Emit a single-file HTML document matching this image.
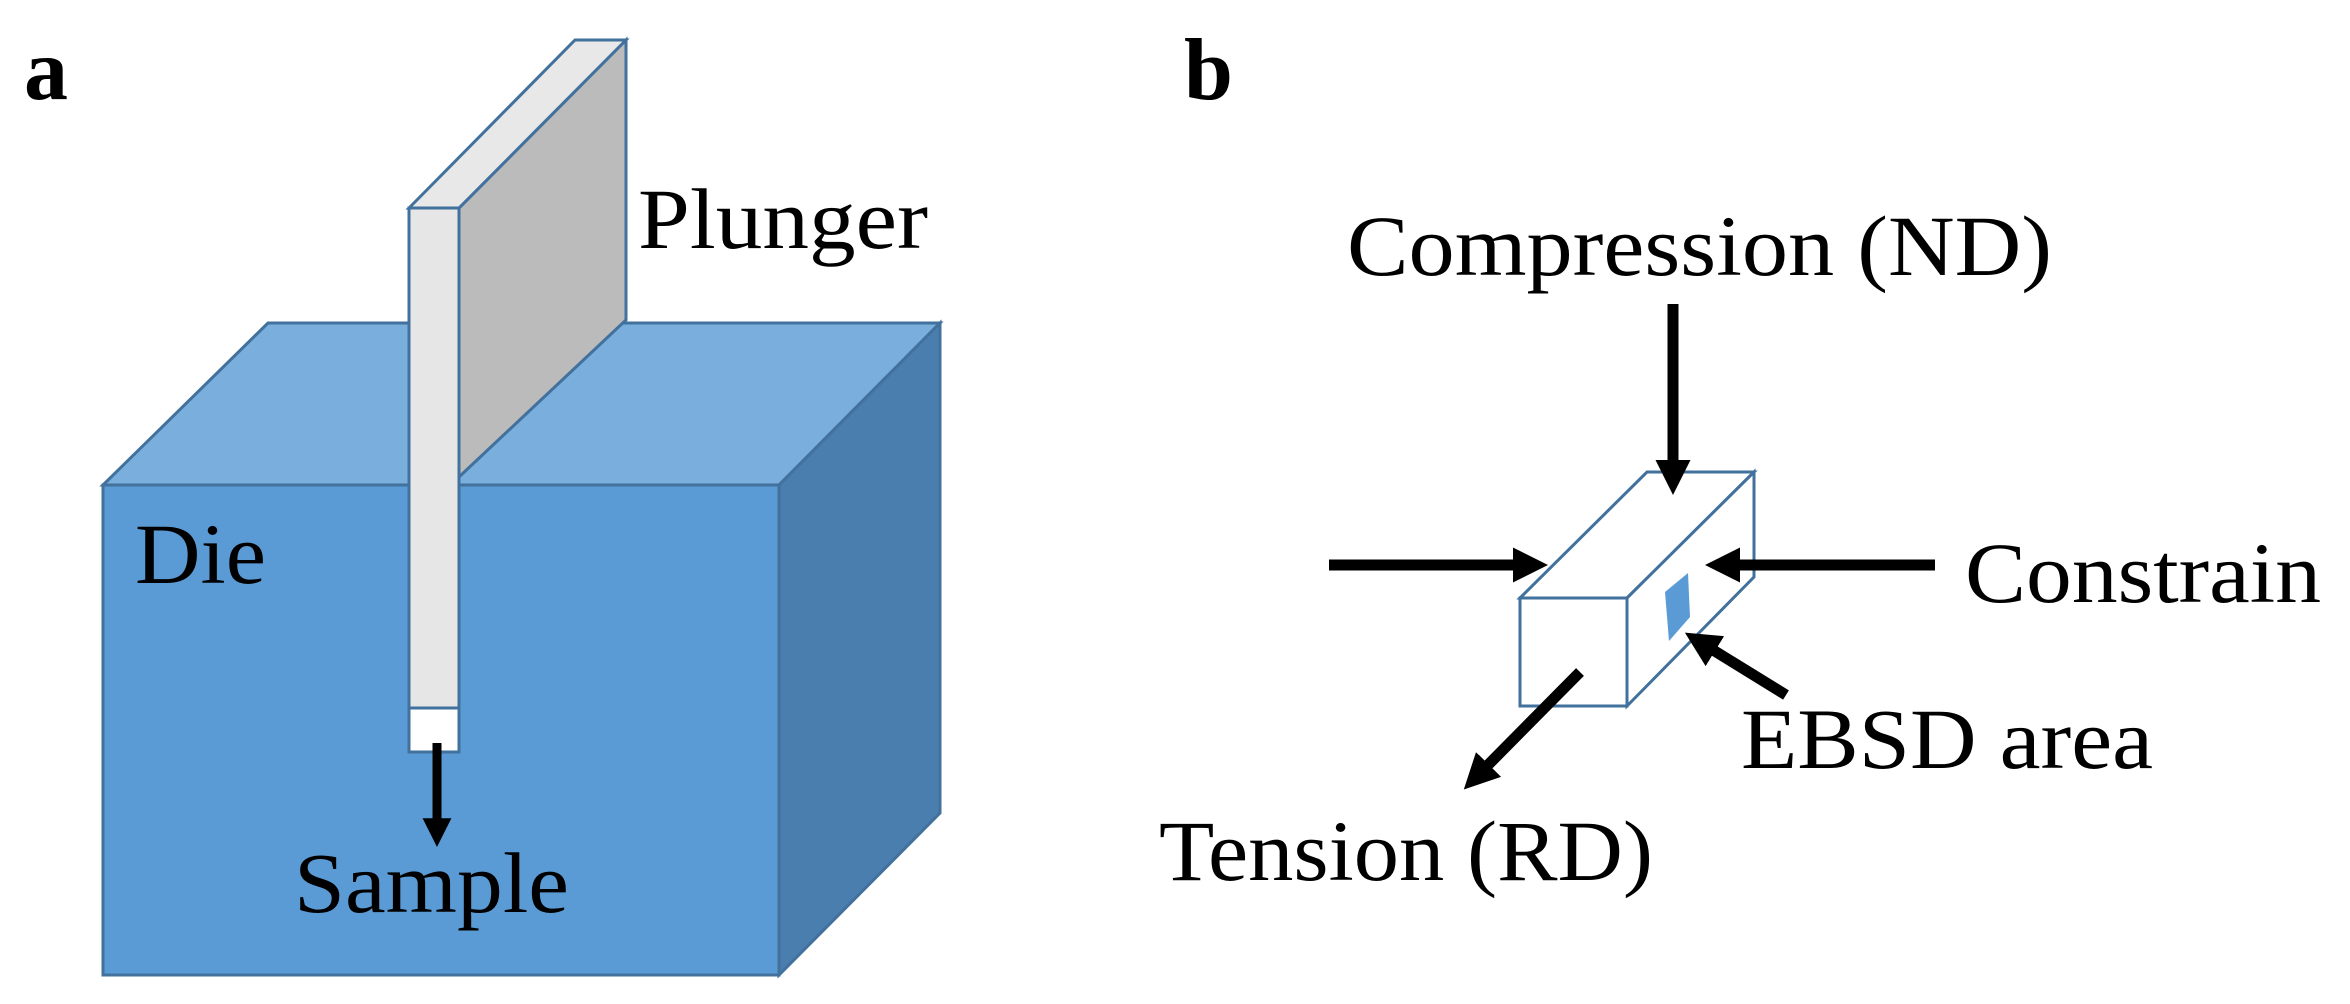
<!DOCTYPE html>
<html><head><meta charset="utf-8"><style>
html,body{margin:0;padding:0;background:#fff;}
svg{display:block}
text{font-family:"Liberation Serif",serif;fill:#000}
</style></head><body>
<svg width="2350" height="1004" viewBox="0 0 2350 1004" xmlns="http://www.w3.org/2000/svg">
<defs>
<marker id="ah" markerWidth="3.2" markerHeight="3.2" refX="0.2" refY="1.6" orient="auto" markerUnits="strokeWidth">
<path d="M0,0 L3.2,1.6 L0,3.2 Z" fill="#000"/>
</marker>
</defs>
<!-- Panel a -->
<text x="24" y="99" font-size="88" font-weight="bold">a</text>
<!-- die top -->
<polygon points="103,485 268,323 940,323 779,485" fill="#7aaedd" stroke="#41719c" stroke-width="3"/>
<!-- right face -->
<polygon points="779,485 940,323 940,813 779,975" fill="#4a7eae" stroke="#41719c" stroke-width="3"/>
<!-- front face -->
<rect x="103" y="485" width="676" height="490" fill="#5b9bd5" stroke="#41719c" stroke-width="3"/>
<!-- plunger gray side -->
<polygon points="459,208 626,40 626,320 459,477" fill="#bbbbbb" stroke="#41719c" stroke-width="3"/>
<!-- plunger top -->
<polygon points="409,208 575,40 626,40 459,208" fill="#e8e8e8" stroke="#41719c" stroke-width="3"/>
<!-- plunger front -->
<rect x="409" y="208" width="50" height="500" fill="#e6e6e6" stroke="#41719c" stroke-width="3"/>
<rect x="409" y="708" width="50" height="44" fill="#ffffff" stroke="#41719c" stroke-width="3"/>
<line x1="437" y1="743" x2="437" y2="820" stroke="#000" stroke-width="9" marker-end="url(#ah)"/>
<text x="638" y="248" font-size="86" textLength="290" lengthAdjust="spacingAndGlyphs">Plunger</text>
<text x="135" y="583" font-size="86" textLength="131" lengthAdjust="spacingAndGlyphs">Die</text>
<text x="294" y="912" font-size="86" textLength="275" lengthAdjust="spacingAndGlyphs">Sample</text>

<!-- Panel b -->
<text x="1184" y="99" font-size="88" font-weight="bold">b</text>
<text x="1347" y="275" font-size="86" textLength="705" lengthAdjust="spacingAndGlyphs">Compression (ND)</text>
<!-- box -->
<polygon points="1520,598 1647,472 1754,472 1627,598" fill="#fff" stroke="#41719c" stroke-width="3"/>
<polygon points="1627,598 1754,472 1754,577 1627,706" fill="#fff" stroke="#41719c" stroke-width="3"/>
<rect x="1520" y="598" width="107" height="108" fill="#fff" stroke="#41719c" stroke-width="3"/>
<polygon points="1665,592 1688,573 1690,617 1669,641" fill="#5b9bd5"/>
<!-- arrows -->
<line x1="1673" y1="304" x2="1673" y2="462" stroke="#000" stroke-width="11" marker-end="url(#ah)"/>
<line x1="1329" y1="565" x2="1515" y2="565" stroke="#000" stroke-width="11" marker-end="url(#ah)"/>
<line x1="1935" y1="565" x2="1738" y2="565" stroke="#000" stroke-width="11" marker-end="url(#ah)"/>
<line x1="1786" y1="695" x2="1713" y2="650" stroke="#000" stroke-width="11" marker-end="url(#ah)"/>
<line x1="1580" y1="672" x2="1487" y2="766" stroke="#000" stroke-width="11" marker-end="url(#ah)"/>
<text x="1965" y="602" font-size="86" textLength="356" lengthAdjust="spacingAndGlyphs">Constrain</text>
<text x="1741" y="768" font-size="86" textLength="412" lengthAdjust="spacingAndGlyphs">EBSD area</text>
<text x="1159" y="880" font-size="86" textLength="494" lengthAdjust="spacingAndGlyphs">Tension (RD)</text>
</svg>
</body></html>
